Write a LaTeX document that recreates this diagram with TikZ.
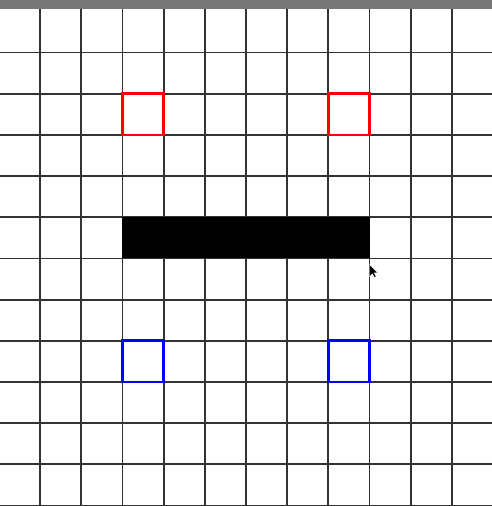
\documentclass[tikz,border=0pt]{standalone}
\usetikzlibrary{positioning}
\definecolor{gridcolor}{HTML}{333333}
\definecolor{barcolor}{HTML}{777777}

\begin{document}
\begin{tikzpicture}[
    gridline/.style={gridcolor, line width=1.2pt},
    redcell/.style={draw=red, line width=2pt},
    bluecell/.style={draw=blue, line width=2pt},
    wall/.style={fill=black},
]
\useasboundingbox (0,0) rectangle (11.95,12.29);

% title strip at the top
\fill[barcolor] (0,12.07) rectangle (11.95,12.29);

\begin{scope}[xshift=-0.025cm, yshift=0.012cm]
% the grid
\foreach \x in {1,...,11}{
    \draw[gridline] (\x,-0.1) -- (\x,12.05);
}
\foreach \y in {0,...,11}{
    \draw[gridline] (0,\y) -- (12,\y);
}

% the wall
\fill[wall] (3,6) rectangle (9,7);

% marked cells above and below
\foreach \x in {3,8}{
    \draw[redcell] (\x,9) rectangle ++(1,1);
    \draw[bluecell] (\x,3) rectangle ++(1,1);
}

% mouse pointer
\fill[black, draw=white, line width=0.2pt] (9,5.85) -- ++(0,-0.29) -- ++(0.07,0.07)
    -- ++(0.05,-0.09) -- ++(0.04,0.02) -- ++(-0.05,0.09) -- ++(0.09,0) -- cycle;
\end{scope}
\end{tikzpicture}
\end{document}
